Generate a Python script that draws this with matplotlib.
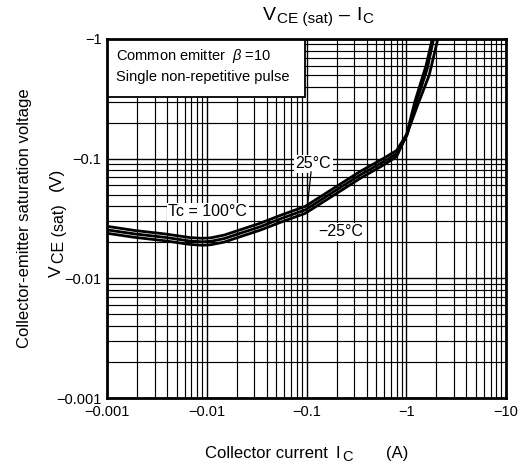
import numpy as np
import matplotlib.pyplot as plt
from matplotlib.patches import Rectangle
from matplotlib.ticker import LogLocator, NullFormatter, FixedLocator, FixedFormatter

plt.rcParams['font.family'] = ['Liberation Sans', 'DejaVu Sans']
plt.rcParams['mathtext.fontset'] = 'custom'
plt.rcParams['mathtext.rm'] = 'Liberation Sans'
plt.rcParams['mathtext.it'] = 'Liberation Sans:italic'

# Collector current |Ic| (A) and VCE(sat) magnitude (V) for each case temperature
ic_25 = [0.001, 0.0019, 0.0038, 0.0068, 0.009, 0.011, 0.015, 0.02, 0.034, 0.058, 0.097, 0.2, 0.345, 0.585, 0.8, 1.02, 1.25, 1.62, 1.9]
v_25 = [0.0254, 0.0235, 0.0220, 0.0205, 0.0202, 0.0204, 0.0215, 0.0233, 0.0269, 0.032, 0.0373, 0.0548, 0.0731, 0.0938, 0.11, 0.158, 0.29, 0.56, 1.05]

ic_100 = [0.001, 0.0019, 0.0038, 0.0068, 0.009, 0.011, 0.015, 0.02, 0.034, 0.058, 0.097, 0.2, 0.345, 0.585, 0.8, 1.02, 1.3, 1.7, 2.1]
v_100 = [0.0272, 0.0251, 0.0235, 0.0219, 0.0216, 0.0218, 0.023, 0.0249, 0.0288, 0.0342, 0.0399, 0.0586, 0.0782, 0.1, 0.117, 0.162, 0.28, 0.5, 1.05]

ic_m25 = [0.001, 0.0019, 0.0038, 0.0068, 0.009, 0.011, 0.015, 0.02, 0.034, 0.058, 0.097, 0.2, 0.345, 0.585, 0.8, 1.0, 1.22, 1.58, 1.85]
v_m25 = [0.0238, 0.022, 0.0206, 0.0192, 0.0189, 0.0191, 0.0201, 0.0218, 0.0252, 0.0299, 0.0349, 0.0512, 0.0684, 0.088, 0.104, 0.155, 0.3, 0.6, 1.05]

x_ticks = [0.001, 0.01, 0.1, 1, 10]
x_labels = ['\u22120.001', '\u22120.01', '\u22120.1', '\u22121', '\u221210']
y_ticks = [0.001, 0.01, 0.1, 1]
y_labels = ['\u22120.001', '\u22120.01', '\u22120.1', '\u22121']

W, H = 526, 468
fig = plt.figure(figsize=(W / 100, H / 100), dpi=100)
ax = fig.add_axes([107 / W, 1 - 398 / H, 399 / W, 359 / H])
renderer = fig.canvas.get_renderer()


def hchain(x0, y_base, pieces):
    # pieces: (text, size, baseline shift, gap before), laid left to right
    x = x0
    for s, size, dy, gap in pieces:
        x += gap
        t = fig.text(x / W, 1 - (y_base + dy) / H, s, fontsize=size,
                     ha='left', va='baseline', rotation_mode='anchor')
        x += t.get_window_extent(renderer).width


def vchain(x_base, y0, pieces):
    # same, rotated 90 degrees and laid bottom to top
    y = y0
    for s, size, dx, gap in pieces:
        y -= gap
        t = fig.text((x_base + dx) / W, 1 - y / H, s, fontsize=size, rotation=90,
                     ha='left', va='baseline', rotation_mode='anchor')
        y -= t.get_window_extent(renderer).height


ax.set_xscale('log')
ax.set_yscale('log')
ax.set_xlim(0.001, 10)
ax.set_ylim(0.001, 1)

# log grid, major and minor
ax.xaxis.set_minor_locator(LogLocator(base=10, subs=np.arange(2, 10)))
ax.yaxis.set_minor_locator(LogLocator(base=10, subs=np.arange(2, 10)))
ax.xaxis.set_minor_formatter(NullFormatter())
ax.yaxis.set_minor_formatter(NullFormatter())
ax.grid(True, which='major', color='black', lw=1.0)
ax.grid(True, which='minor', color='black', lw=0.85)
ax.set_axisbelow(True)

ax.xaxis.set_major_locator(FixedLocator(x_ticks))
ax.xaxis.set_major_formatter(FixedFormatter(x_labels))
ax.yaxis.set_major_locator(FixedLocator(y_ticks))
ax.yaxis.set_major_formatter(FixedFormatter(y_labels))
ax.tick_params(which='both', length=0, labelsize=10.5)
ax.tick_params(axis='x', pad=5)
ax.tick_params(axis='y', pad=4)

for s in ax.spines.values():
    s.set_linewidth(2)
    s.set_zorder(6)

# curves
for ic, v in [(ic_100, v_100), (ic_25, v_25), (ic_m25, v_m25)]:
    ax.plot(ic, v, color='black', lw=2.0, zorder=3, solid_capstyle='butt')

# condition box
ax.add_patch(Rectangle((0, 0.838), 0.496, 0.162, transform=ax.transAxes,
                       facecolor='white', edgecolor='black', lw=1.3, zorder=5))
ax.text(0.023, 0.952, r'Common emitter  $\it{\beta}$ =10', transform=ax.transAxes,
        fontsize=10.5, va='center', zorder=6)
ax.text(0.023, 0.893, 'Single non-repetitive pulse', transform=ax.transAxes,
        fontsize=10.5, va='center', zorder=6)

# temperature labels
wb = dict(facecolor='white', edgecolor='none', pad=1.2)
ax.text(0.0102, 0.0359, 'Tc = 100\u00b0C', fontsize=11.5, ha='center', va='center', bbox=wb, zorder=4)
ax.text(0.117, 0.0903, '25\u00b0C', fontsize=11.5, ha='center', va='center', bbox=wb, zorder=4)
ax.plot([0.111, 0.101], [0.0774, 0.0366], color='black', lw=0.9, zorder=4)
ax.text(0.22, 0.0244, '\u221225\u00b0C', fontsize=11.5, ha='center', va='center', bbox=wb, zorder=4)

# title: VCE (sat) – IC
hchain(263, 20, [('V', 14, 0, 0), ('CE (sat)', 11, 3, 1),
                 ('\u2013', 14, 0, 6), ('I', 14, 0, 6), ('C', 11, 3, 1)])

# x axis label
hchain(205, 458, [('Collector current', 12, 0, 0), ('I', 12, 0, 8),
                  ('C', 10.5, 3, 2), ('(A)', 12, 0, 33)])

# y axis label, two lines
fig.text(25 / W, 1 - 218 / H, 'Collector-emitter saturation voltage',
         fontsize=12, rotation=90, ha='center', va='center')
vchain(61, 277, [('V', 12.5, 0, 0), ('CE (sat)', 11.5, 3, 2), ('(V)', 12.5, 0, 14)])

fig.savefig('out.png', dpi=100)
